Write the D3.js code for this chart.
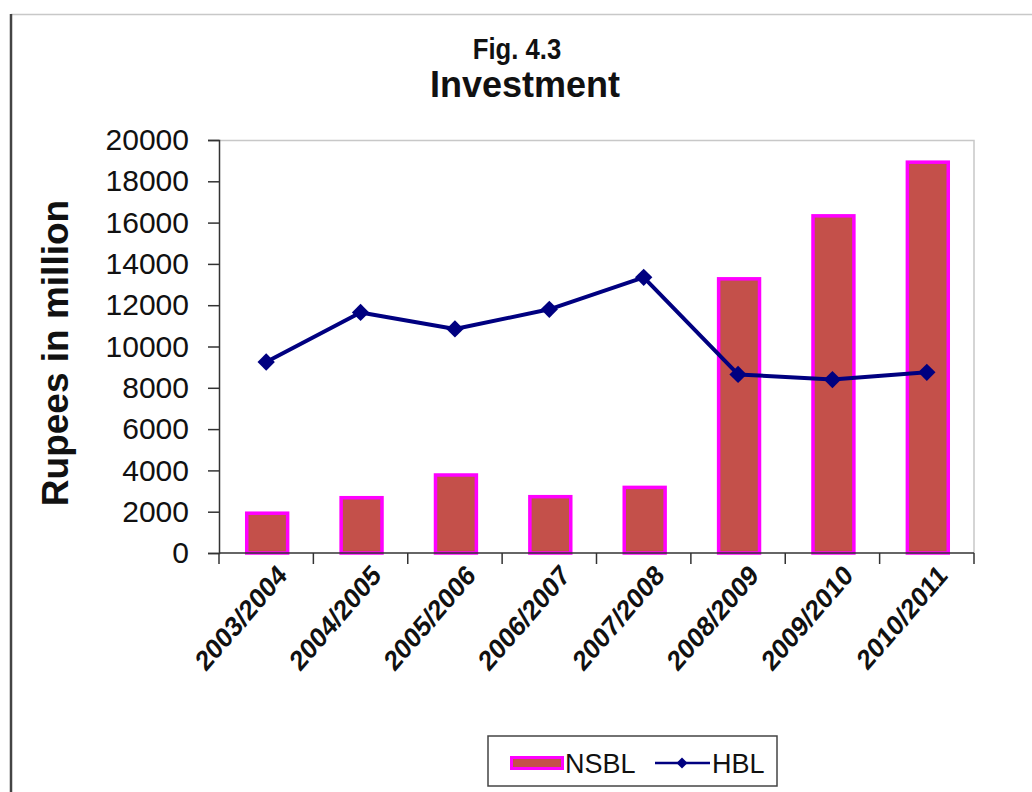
<!DOCTYPE html>
<html>
<head>
<meta charset="utf-8">
<script src="https://cdn.jsdelivr.net/npm/d3@7"></script>
<style>
  body { margin: 0; background: #fff; }
  text { font-family: "Liberation Sans", Arial, sans-serif; }
</style>
</head>
<body>
<div id="chart"></div>
<script>
var years = ["2003/2004", "2004/2005", "2005/2006", "2006/2007", "2007/2008", "2008/2009", "2009/2010", "2010/2011"];
var nsbl = [2000, 2750, 3850, 2800, 3250, 13350, 16400, 19000];
var hbl = [9250, 11650, 10850, 11800, 13350, 8650, 8400, 8750];
var yTicks = [0, 2000, 4000, 6000, 8000, 10000, 12000, 14000, 16000, 18000, 20000];

var width = 1032, height = 792;
var margin = { top: 140, right: 58, bottom: 239, left: 219 };
var plotW = width - margin.left - margin.right;
var plotH = height - margin.top - margin.bottom;

var barFill = "#c4504a";
var barEdge = "#ff00ff";
var lineColor = "#000080";

var svg = d3.select("#chart").append("svg")
    .attr("width", width)
    .attr("height", height);

// outer frame
svg.append("line")
    .attr("x1", 11).attr("x2", width).attr("y1", 14.5).attr("y2", 14.5)
    .style("stroke", "#c8c8c8").style("stroke-width", 1.5);
svg.append("line")
    .attr("x1", 11).attr("x2", 11).attr("y1", 14).attr("y2", height)
    .style("stroke", "#444").style("stroke-width", 2.5);

// titles
svg.append("text")
    .text("Fig. 4.3")
    .attr("transform", "translate(517,59) scale(0.95,1.12)")
    .attr("text-anchor", "middle")
    .style("font-size", "27px")
    .style("font-weight", "bold")
    .style("fill", "#111");
svg.append("text")
    .text("Investment")
    .attr("x", 525).attr("y", 97)
    .attr("text-anchor", "middle")
    .style("font-size", "36px")
    .style("font-weight", "bold")
    .style("fill", "#111");

var x = d3.scaleBand()
    .domain(years)
    .range([0, plotW]);
var y = d3.scaleLinear()
    .domain([0, 20000])
    .range([plotH, 0]);

var canvas = svg.append("g")
    .attr("transform", "translate(" + margin.left + "," + margin.top + ")");

// plot area border (top + right)
canvas.append("path")
    .attr("d", "M0,0.5H" + plotW + "V" + plotH)
    .style("fill", "none")
    .style("stroke", "#c8c8c8")
    .style("stroke-width", 1.5);

// bars
var barW = x.bandwidth() * 0.465;
canvas.selectAll(".bar")
    .data(nsbl)
    .enter()
    .append("rect")
        .attr("class", "bar")
        .attr("x", (d, i) => x(years[i]) + (x.bandwidth() - barW) / 2 + 1.5 + 1)
        .attr("y", d => y(d) + 1.5)
        .attr("width", barW - 3)
        .attr("height", d => y(0) - y(d) - 1.5)
        .style("fill", barFill)
        .style("stroke", barEdge)
        .style("stroke-width", 3.5);

// axes
var yAxis = canvas.append("g")
    .call(d3.axisLeft(y).tickValues(yTicks).tickFormat(d3.format("d")).tickSize(11).tickPadding(19));
yAxis.select(".domain").style("stroke", "#333").style("stroke-width", 1.5);
yAxis.selectAll(".tick line").style("stroke", "#333").style("stroke-width", 1.5);
yAxis.selectAll(".tick text")
    .style("font-size", "30px")
    .style("font-family", "Liberation Sans, Arial, sans-serif")
    .style("fill", "#111");

var xAxis = canvas.append("g")
    .attr("transform", "translate(0," + plotH + ")");
xAxis.append("line")
    .attr("x1", 0).attr("x2", plotW)
    .style("stroke", "#333").style("stroke-width", 1.5);
xAxis.selectAll(".xtick")
    .data(d3.range(years.length + 1))
    .enter()
    .append("line")
        .attr("class", "xtick")
        .attr("x1", i => i * x.step()).attr("x2", i => i * x.step())
        .attr("y1", 0).attr("y2", 11)
        .style("stroke", "#333").style("stroke-width", 1.5);
xAxis.selectAll(".xlabel")
    .data(years)
    .enter()
    .append("text")
        .attr("class", "xlabel")
        .text(d => d)
        .attr("text-anchor", "end")
        .attr("transform", d => "translate(" + (x(d) + x.bandwidth() / 2 + 22) + ",24) scale(0.95,1.1) rotate(-45)")
        .style("font-size", "26px")
        .style("font-weight", "bold")
        .style("fill", "#111");

// y label
svg.append("text")
    .text("Rupees in million")
    .attr("text-anchor", "middle")
    .attr("transform", "translate(68,353) rotate(-90)")
    .style("font-size", "37px")
    .style("font-weight", "bold")
    .style("fill", "#111");

// HBL line
var line = d3.line()
    .x((d, i) => x(years[i]) + x.bandwidth() / 2)
    .y(d => y(d));
canvas.append("path")
    .datum(hbl)
    .attr("d", line)
    .style("fill", "none")
    .style("stroke", lineColor)
    .style("stroke-width", 4)
    .style("stroke-linejoin", "round");
canvas.selectAll(".marker")
    .data(hbl)
    .enter()
    .append("path")
        .attr("class", "marker")
        .attr("d", d3.symbol(d3.symbolSquare, 150))
        .attr("transform", (d, i) => "translate(" + (x(years[i]) + x.bandwidth() / 2) + "," + y(d) + ") rotate(45)")
        .style("fill", lineColor);

// legend
var legend = svg.append("g").attr("transform", "translate(488,736)");
legend.append("rect")
    .attr("width", 289).attr("height", 50)
    .style("fill", "#fff")
    .style("stroke", "#444")
    .style("stroke-width", 1.5);
legend.append("rect")
    .attr("x", 23.5).attr("y", 21.5)
    .attr("width", 51).attr("height", 11)
    .style("fill", barFill)
    .style("stroke", barEdge)
    .style("stroke-width", 3);
legend.append("text")
    .text("NSBL")
    .attr("x", 77).attr("y", 37)
    .style("font-size", "27px")
    .style("fill", "#111");
legend.append("line")
    .attr("x1", 167).attr("x2", 222).attr("y1", 27).attr("y2", 27)
    .style("stroke", lineColor).style("stroke-width", 2.5);
legend.append("path")
    .attr("d", d3.symbol(d3.symbolSquare, 60))
    .attr("transform", "translate(194,27) rotate(45)")
    .style("fill", lineColor);
legend.append("text")
    .text("HBL")
    .attr("x", 224).attr("y", 37)
    .style("font-size", "27px")
    .style("fill", "#111");
</script>
</body>
</html>
